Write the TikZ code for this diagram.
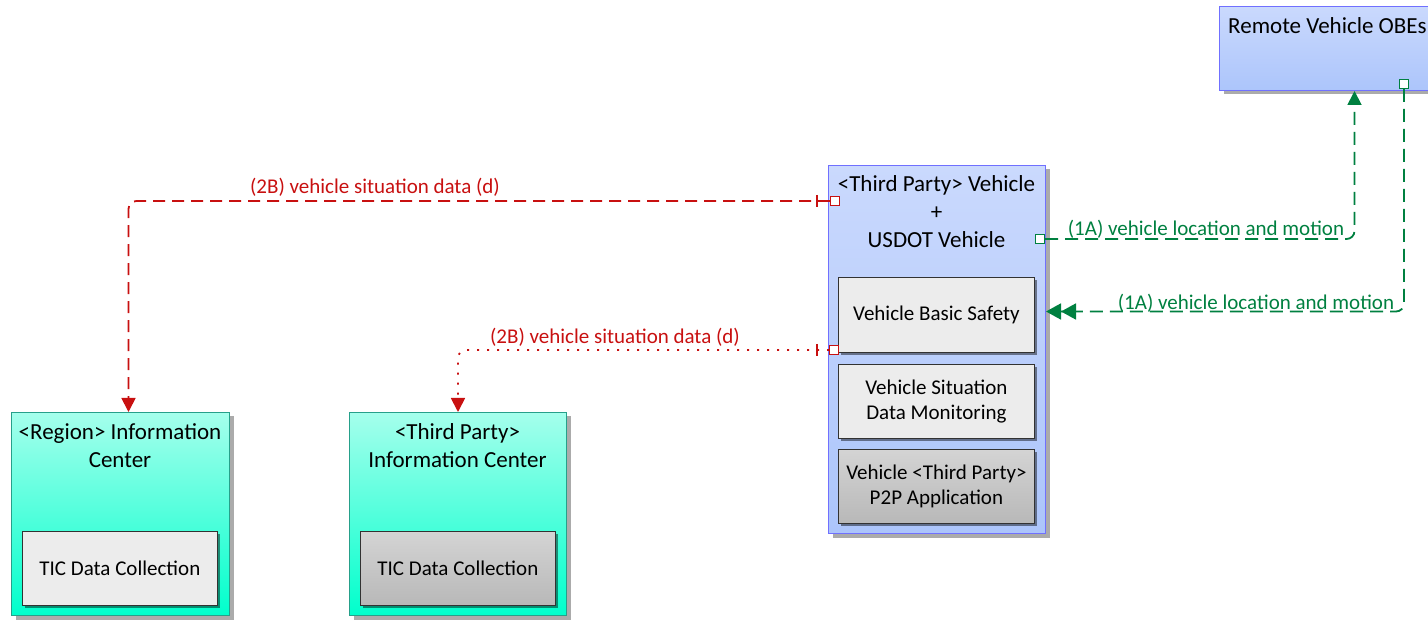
\documentclass[tikz,border=0pt]{standalone}
\usepackage{fontspec}
\setmainfont{Carlito}
\usetikzlibrary{arrows.meta,shadows}

\definecolor{vtop}{RGB}{202,217,253}
\definecolor{vbot}{RGB}{172,197,251}
\definecolor{vline}{RGB}{112,112,255}
\definecolor{ttop}{RGB}{165,255,236}
\definecolor{tbot}{RGB}{0,255,204}
\definecolor{tline}{RGB}{38,160,138}
\definecolor{subA}{RGB}{236,236,236}
\definecolor{subBtop}{RGB}{212,212,212}
\definecolor{subBbot}{RGB}{184,184,184}
\definecolor{subline}{RGB}{50,50,50}
\definecolor{flowred}{RGB}{200,16,16}
\definecolor{flowgreen}{RGB}{0,128,64}

\newcommand\titlefont{\fontsize{23}{28}\selectfont}
\newcommand\subfont{\fontsize{21}{25}\selectfont}
\newcommand\flowfont{\fontsize{21}{24}\selectfont}

\tikzset{
  shade/.style={drop shadow={shadow xshift=4pt,shadow yshift=-4pt,fill=black,opacity=0.33}},
  outer/.style={anchor=north west, inner sep=0pt, line width=1pt, shade},
  vehbox/.style={outer, draw=vline, top color=vtop, bottom color=vbot},
  centerbox/.style={outer, draw=tline, top color=ttop, bottom color=tbot},
  subbox/.style={anchor=north west, inner sep=0pt, draw=subline, line width=0.8pt,
    align=center, font=\subfont, minimum width=196pt, minimum height=75pt,
    drop shadow={shadow xshift=3pt,shadow yshift=-3pt,fill=black,opacity=0.45}},
  sublight/.style={subbox, fill=subA},
  subdark/.style={subbox, top color=subBtop, bottom color=subBbot},
  boxtitle/.style={anchor=north, inner sep=0pt, align=center, font=\titlefont},
  port/.style={draw, fill=white, line width=1pt, minimum size=9pt, inner sep=0pt},
  flow/.style={line width=1.8pt, rounded corners=8pt},
  redflow/.style={flow, draw=flowred, dash pattern=on 12pt off 7pt,
    -{Triangle[length=14pt,width=14pt]}},
  reddots/.style={flow, draw=flowred, dash pattern=on 2pt off 8pt,
    -{Triangle[length=14pt,width=14pt]}},
  greenflow/.style={flow, draw=flowgreen, dash pattern=on 13pt off 7pt,
    -{Triangle[length=14pt,width=14pt]}},
  greenflow2/.style={flow, draw=flowgreen, dash pattern=on 13pt off 7pt,
    -{Triangle[length=15pt,width=16pt]Triangle[length=15pt,width=16pt]}},
  flowlabel/.style={inner sep=0pt, font=\flowfont},
  tick/.style={line width=1.8pt, draw=flowred}
}

\begin{document}
\begin{tikzpicture}[x=1pt,y=-1pt]
\useasboundingbox (0,0) rectangle (1428,620);

% remote vehicles
\node[vehbox, minimum width=222pt, minimum height=84pt] (rem) at (1219,6) {};
\node[boxtitle, anchor=north west] (remt) at (1228,17) {Remote Vehicle OBEs};

% the connected vehicle with its functional objects
\node[vehbox, minimum width=217pt, minimum height=368pt] (veh) at (828,165) {};
\node[boxtitle] (veht) at (936.5,175) {<Third Party> Vehicle\\+\\USDOT Vehicle};
\node[sublight] (vbs) at (838,277) {Vehicle Basic Safety};
\node[sublight, minimum height=74pt] (vsd) at (838,364) {Vehicle Situation\\Data Monitoring};
\node[subdark, minimum height=74pt] (vp2p) at (838,449) {Vehicle <Third Party>\\P2P Application};

% information centers
\node[centerbox, minimum width=218pt, minimum height=203pt] (ric) at (11,412) {};
\node[boxtitle] (rict) at (120,423) {<Region> Information\\Center};
\node[sublight, minimum width=195pt, minimum height=74pt] (ricd) at (22,531) {TIC Data Collection};

\node[centerbox, minimum width=217pt, minimum height=203pt] (tic) at (349,412) {};
\node[boxtitle] (tict) at (457.5,423) {<Third Party>\\Information Center};
\node[subdark, minimum width=195pt, minimum height=74pt] (ticd) at (360,531) {TIC Data Collection};

% interface ports
\node[port, draw=flowred] (p1) at (835,201) {};
\node[port, draw=flowred] (p2) at (834,350) {};
\node[port, draw=flowgreen] (gp) at (1040,239) {};
\node[port, draw=flowgreen] (rp) at (1404,84) {};

% vehicle situation data flows
\draw[redflow] (p1.west) -| ([xshift=8pt]ric.north);
\draw[tick] ([xshift=-13pt]p1.west) ++(0,-6) -- ++(0,12);
\node[flowlabel, text=flowred] (l1) at (375,187) {(2B) vehicle situation data (d)};

\draw[reddots] (p2.west) -| (tic.north);
\draw[tick] ([xshift=-12pt]p2.west) ++(0,-6) -- ++(0,12);
\node[flowlabel, text=flowred] (l2) at (615,337) {(2B) vehicle situation data (d)};

% vehicle location and motion flows
\draw[greenflow] (gp.east) -| ([xshift=24pt]rem.south);
\node[flowlabel, text=flowgreen] (l3) at (1206,229) {(1A) vehicle location and motion};

\draw[greenflow2] (rp.south) |- ([yshift=38pt]veh.east);
\node[flowlabel, text=flowgreen] (l4) at (1256,303) {(1A) vehicle location and motion};
\end{tikzpicture}
\end{document}
